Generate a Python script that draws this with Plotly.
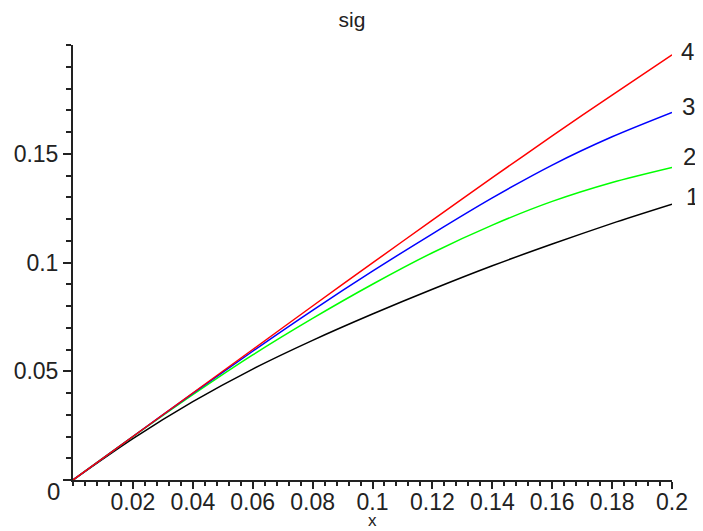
import plotly.graph_objects as go

x_vals = [0.0, 0.02, 0.04, 0.06, 0.08, 0.10, 0.12, 0.14, 0.16, 0.18, 0.20]
sig_1 = [0.0, 0.0190, 0.0360, 0.0510, 0.0642, 0.0763, 0.0877, 0.0985, 0.1085, 0.1180, 0.1268]
sig_2 = [0.0, 0.0199, 0.0392, 0.0575, 0.0743, 0.0900, 0.1045, 0.1172, 0.1281, 0.1368, 0.1437]
sig_3 = [0.0, 0.0200, 0.0398, 0.0592, 0.0780, 0.0960, 0.1132, 0.1297, 0.1448, 0.1578, 0.1690]
sig_4 = [0.0, 0.0200, 0.0400, 0.0600, 0.0800, 0.0998, 0.1195, 0.1390, 0.1582, 0.1770, 0.1955]

curve_names = ["1", "2", "3", "4"]
curve_colors = ["#000000", "#00ff00", "#0000ff", "#ff0000"]

x_tick_vals = [0.02, 0.04, 0.06, 0.08, 0.10, 0.12, 0.14, 0.16, 0.18, 0.20]
x_tick_text = ["0.02", "0.04", "0.06", "0.08", "0.1", "0.12", "0.14", "0.16", "0.18", "0.2"]
y_tick_vals = [0.0, 0.05, 0.10, 0.15]
y_tick_text = ["", "0.05", "0.1", "0.15"]

FONT = "Liberation Sans, Arial, sans-serif"

# the page body has a default 8px margin; the figure is sized to compensate
W, H = 695, 523

fig = go.Figure()
for name, ys, col in zip(curve_names, [sig_1, sig_2, sig_3, sig_4], curve_colors):
    fig.add_trace(go.Scatter(x=x_vals, y=ys, mode="lines", name=name,
                             line=dict(color=col, width=1.5, shape="spline", smoothing=0.8),
                             showlegend=False, hoverinfo="skip"))

# curve labels just right of the curve ends (x=0.2 in data, shifted in pixels)
label_pos = {"4": (15, 0.1969), "3": (16, 0.1717), "2": (17, 0.1487), "1": (20, 0.1303)}
for name in curve_names:
    sx, ly = label_pos[name]
    fig.add_annotation(x=0.2, y=ly, xref="x", yref="y", text=name, showarrow=False,
                       xshift=sx,
                       font=dict(family=FONT, size=24, color="#222"), xanchor="center", yanchor="middle")

# origin label
fig.add_annotation(x=0, y=0, xref="x", yref="y", text="0", showarrow=False,
                   xshift=-20, yshift=-11,
                   font=dict(family=FONT, size=24, color="#222"), xanchor="center", yanchor="middle")
# x axis title
fig.add_annotation(x=0.5, y=-0.092, xref="paper", yref="paper", text="x", showarrow=False,
                   font=dict(family=FONT, size=17, color="#222"), xanchor="center", yanchor="middle")

fig.update_layout(
    width=W, height=H,
    margin=dict(l=65, r=31, t=37, b=51),
    paper_bgcolor="white", plot_bgcolor="white",
    title=dict(text="sig", x=0.495, xref="container", xanchor="center",
               y=1 - 12 / H, yref="container", yanchor="middle",
               font=dict(family=FONT, size=21, color="#222")),
    xaxis=dict(range=[0, 0.2], showgrid=False, zeroline=False, showline=True, automargin=False,
               linecolor="#222", linewidth=2, ticks="outside", ticklen=7, tickwidth=2,
               tickcolor="#222", tickvals=x_tick_vals, ticktext=x_tick_text,
               ticklabelstandoff=-7,
               tickfont=dict(family=FONT, size=23, color="#222"),
               minor=dict(dtick=0.004, tick0=0, ticks="outside", ticklen=4, tickwidth=2, tickcolor="#222")),
    yaxis=dict(range=[0, 0.2], showgrid=False, zeroline=False, showline=True, automargin=False,
               linecolor="#222", linewidth=2, ticks="outside", ticklen=8, tickwidth=2,
               tickcolor="#222", tickvals=y_tick_vals, ticktext=y_tick_text,
               tickfont=dict(family=FONT, size=23, color="#222"),
               minor=dict(dtick=0.01, tick0=0, ticks="outside", ticklen=5, tickwidth=2, tickcolor="#222")),
)

fig.write_html("out.html")
